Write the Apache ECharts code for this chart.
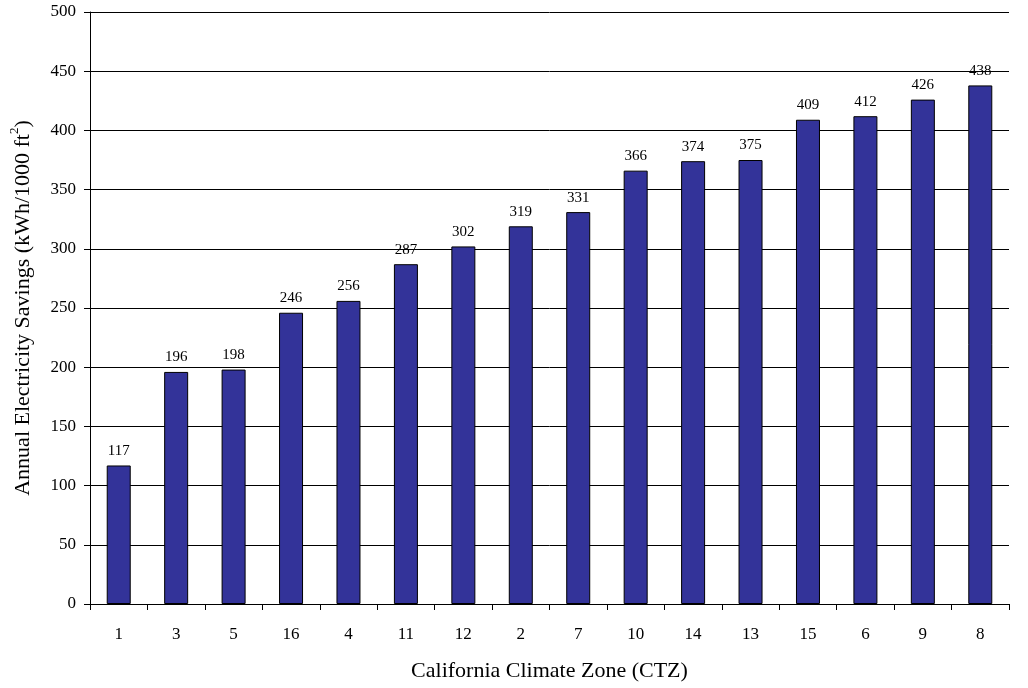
<!DOCTYPE html>
<html><head><meta charset="utf-8">
<script src="https://cdn.jsdelivr.net/npm/echarts@6/dist/echarts.min.js"></script>
<style>html,body{margin:0;padding:0;background:#fff}#c{width:1028px;height:688px}</style>
</head><body><div id="c"></div>
<script>
const categories = ['1','3','5','16','4','11','12','2','7','10','14','13','15','6','9','8'];
const savings = [117,196,198,246,256,287,302,319,331,366,374,375,409,412,426,438];
const yTicks = {min:0, max:500, interval:50};
const font = '"Liberation Serif", "Times New Roman", serif';
const chart = echarts.init(document.getElementById('c'));
chart.setOption({
  animation:false,
  grid:{left:86,right:19,top:12,bottom:84,containLabel:false},
  xAxis:{type:'category',data:categories,
    axisLine:{lineStyle:{color:'#000',width:1}},
    axisTick:{show:true,length:6,alignWithLabel:false,lineStyle:{color:'#000'}},
    axisLabel:{color:'#000',fontFamily:font,fontSize:17,margin:22},
    name:'California Climate Zone (CTZ)',nameLocation:'middle',nameGap:56,
    nameTextStyle:{color:'#000',fontFamily:font,fontSize:22}},
  yAxis:{type:'value',min:yTicks.min,max:yTicks.max,interval:yTicks.interval,
    axisLine:{show:true,lineStyle:{color:'#000',width:1}},
    axisTick:{show:true,length:6,inside:false,lineStyle:{color:'#000'}},
    splitLine:{show:true,lineStyle:{color:'#000',width:1}},
    axisLabel:{color:'#000',fontFamily:font,fontSize:17,margin:14},
    name:'Annual Electricity Savings (kWh/1000 ft{sup|2})',nameLocation:'middle',nameGap:52,nameRotate:90,
    nameTextStyle:{color:'#000',fontFamily:font,fontSize:22,
      rich:{sup:{fontFamily:font,fontSize:13,color:'#000',verticalAlign:'top',lineHeight:30}}}},
  series:[{type:'bar',data:savings,barWidth:24,
    itemStyle:{color:'#333399',borderColor:'#000',borderWidth:1},
    label:{show:true,position:'top',distance:7,color:'#000',fontFamily:font,fontSize:15}}]
});
</script></body></html>
